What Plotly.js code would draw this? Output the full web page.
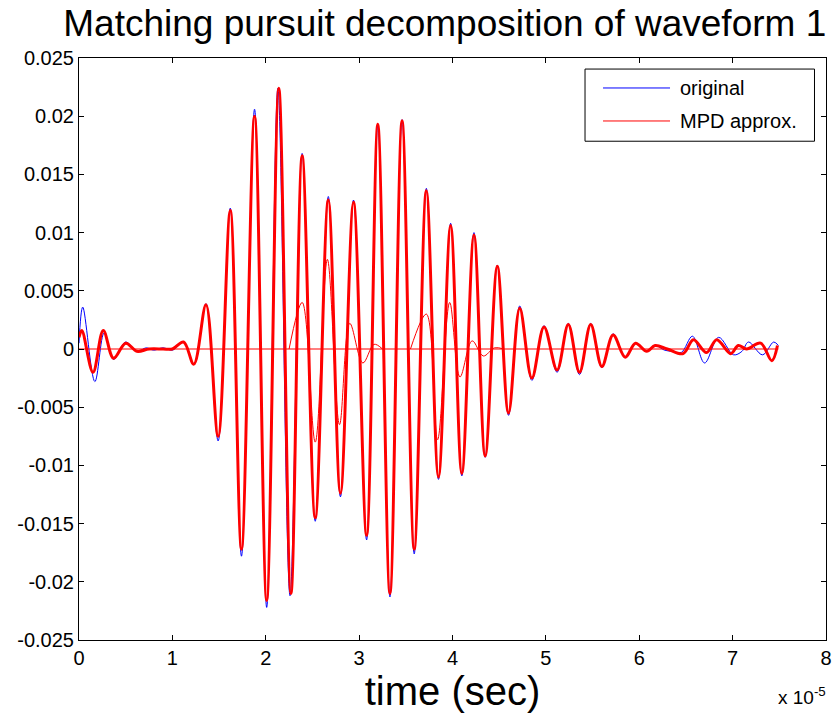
<!DOCTYPE html>
<html>
<head>
<meta charset="utf-8">
<script src="https://cdn.plot.ly/plotly-3.0.1.min.js"></script>
<style>html,body{margin:0;padding:0;background:#fff;}#chart{width:836px;height:725px;}</style>
</head>
<body>
<div id="chart"></div>
<script>
// time in units of 1e-5 s
const tOriginal = [0.00,0.04,0.17,0.27,0.37,0.50,0.62,0.72,0.80,0.90,1.00,1.12,1.23,1.36,1.49,1.62,1.74,1.88,2.01,2.13,2.26,2.39,2.53,2.67,2.80,2.94,3.08,3.20,3.33,3.46,3.59,3.72,3.85,3.98,4.10,4.23,4.35,4.48,4.60,4.72,4.85,4.98,5.12,5.24,5.36,5.48,5.60,5.72,5.85,5.96,6.08,6.17,6.27,6.35,6.45,6.57,6.70,6.85,7.01,7.10,7.17,7.32,7.44,7.49];
const vOriginal = [0.0005,0.0036,-0.0028,0.0014,-0.0009,0.0006,-0.0002,0.0001,-0.0001,0.0001,-0.0001,0.0006,-0.0013,0.0039,-0.0079,0.0121,-0.0178,0.0206,-0.0222,0.0224,-0.0212,0.0168,-0.0148,0.0131,-0.0127,0.0128,-0.0164,0.0192,-0.0213,0.0197,-0.0176,0.0138,-0.0112,0.0108,-0.0109,0.0100,-0.0093,0.0072,-0.0057,0.0037,-0.0027,0.0020,-0.0020,0.0022,-0.0022,0.0022,-0.0016,0.0013,-0.0007,0.0005,-0.0002,0.0003,-0.0001,-0.0002,-0.0003,0.0011,-0.0012,0.0010,-0.0005,-0.0002,0.0006,-0.0005,0.0006,0.0003];

const tApprox = [0.00,0.03,0.15,0.26,0.37,0.50,0.62,0.75,0.90,1.00,1.12,1.23,1.36,1.49,1.62,1.74,1.88,2.01,2.14,2.27,2.39,2.53,2.67,2.80,2.94,3.08,3.20,3.33,3.46,3.59,3.72,3.85,3.98,4.10,4.23,4.35,4.48,4.60,4.72,4.85,4.98,5.12,5.24,5.36,5.48,5.60,5.72,5.85,5.96,6.08,6.17,6.30,6.47,6.58,6.72,6.83,6.98,7.06,7.15,7.30,7.42,7.48];
const vApprox = [0.0010,0.0016,-0.0020,0.0016,-0.0008,0.0005,-0.0002,0.0000,0.0000,0.0000,0.0006,-0.0013,0.0038,-0.0075,0.0119,-0.0172,0.0200,-0.0216,0.0224,-0.0210,0.0166,-0.0145,0.0128,-0.0124,0.0126,-0.0160,0.0193,-0.0210,0.0196,-0.0172,0.0136,-0.0110,0.0106,-0.0107,0.0098,-0.0092,0.0071,-0.0055,0.0035,-0.0025,0.0019,-0.0018,0.0021,-0.0020,0.0021,-0.0015,0.0012,-0.0007,0.0005,-0.0002,0.0003,0.0000,-0.0004,0.0008,-0.0003,0.0008,-0.0004,0.0003,0.0000,0.0005,-0.0010,0.0003];

const tAtomA = [2.25,2.39,2.53,2.66,2.79,2.90,3.04,3.16,3.25];
const vAtomA = [0.0000,0.0040,-0.0080,0.0077,-0.0065,0.0022,-0.0012,0.0004,0.0000];
const tAtomB = [3.55,3.72,3.84,3.97,4.08,4.21,4.33,4.45,4.55];
const vAtomB = [0.0000,0.0030,-0.0078,0.0040,-0.0024,0.0007,-0.0006,0.0001,0.0000];
const tZero = [0.00,7.49];
const vZero = [0,0];

const xTickVals = [0,1,2,3,4,5,6,7,8];
const xTickText = ['0','1','2','3','4','5','6','7','8'];
const yTickVals = [0.025,0.02,0.015,0.01,0.005,0,-0.005,-0.01,-0.015,-0.02,-0.025];
const yTickText = ['0.025','0.02','0.015','0.01','0.005','0','-0.005','-0.01','-0.015','-0.02','-0.025'];

const FONT = 'Arial, "Liberation Sans", sans-serif';

const traces = [
  {x:tOriginal, y:vOriginal, name:'original', mode:'lines', line:{color:'#0000ff', width:1, shape:'spline', smoothing:1}, showlegend:false},
  {x:tZero, y:vZero, name:'MPD approx.', mode:'lines', line:{color:'#ff0000', width:1.2}, showlegend:false},
  {x:tAtomA, y:vAtomA, name:'atom', mode:'lines', line:{color:'#ff0000', width:1, shape:'spline', smoothing:1}, showlegend:false},
  {x:tAtomB, y:vAtomB, name:'atom', mode:'lines', line:{color:'#ff0000', width:1, shape:'spline', smoothing:1}, showlegend:false},
  {x:tApprox, y:vApprox, name:'MPD approx.', mode:'lines', line:{color:'#ff0000', width:3, shape:'spline', smoothing:1}, showlegend:false}
];

// legend box geometry (paper coords)
const lx0 = 0.6774, lx1 = 0.9846, ly0 = 0.857, ly1 = 0.981;
const layout = {
  width:836, height:725,
  paper_bgcolor:'#ffffff', plot_bgcolor:'#ffffff',
  margin:{l:79, r:10, t:58, b:85},
  font:{family:FONT, color:'#000'},
  title:{text:'Matching pursuit decomposition of waveform 1', font:{family:FONT, size:37, color:'#000'}, xref:'container', x:0.532, xanchor:'center', yref:'container', y:0.986, yanchor:'top'},
  xaxis:{range:[0,8], tickvals:xTickVals, ticktext:xTickText, ticks:'inside', ticklen:5, tickcolor:'#000', showline:true, linecolor:'#000', linewidth:1, mirror:'ticks', showgrid:false, zeroline:false, tickfont:{size:20, family:FONT}, title:{text:'time (sec)', font:{size:40, family:FONT}, standoff:8}},
  yaxis:{range:[-0.025,0.025], tickvals:yTickVals, ticktext:yTickText, ticks:'inside', ticklen:5, tickcolor:'#000', showline:true, linecolor:'#000', linewidth:1, mirror:'ticks', showgrid:false, zeroline:false, tickfont:{size:20, family:FONT}},
  shapes:[
    {type:'rect', xref:'paper', yref:'paper', x0:lx0, x1:lx1, y0:ly0, y1:ly1, line:{color:'#000', width:1}, fillcolor:'#fff', layer:'above'},
    {type:'line', xref:'paper', yref:'paper', x0:0.7015, x1:0.7912, y0:0.9485, y1:0.9485, line:{color:'#0000ff', width:1}, layer:'above'},
    {type:'line', xref:'paper', yref:'paper', x0:0.7015, x1:0.7912, y0:0.8918, y1:0.8918, line:{color:'#ff0000', width:1}, layer:'above'}
  ],
  annotations:[
    {xref:'paper', yref:'paper', x:0.8019, y:0.9485, xanchor:'left', yanchor:'middle', text:'original', showarrow:false, font:{size:20, family:FONT, color:'#000'}},
    {xref:'paper', yref:'paper', x:0.8019, y:0.8918, xanchor:'left', yanchor:'middle', text:'MPD approx.', showarrow:false, font:{size:20, family:FONT, color:'#000'}},
    {xref:'paper', yref:'paper', x:1.003, y:-0.072, xanchor:'right', yanchor:'top', text:'x 10<sup>-5</sup>', showarrow:false, font:{size:19, family:FONT, color:'#000'}}
  ]
};

Plotly.newPlot('chart', traces, layout, {displayModeBar:false, staticPlot:true});
</script>
</body>
</html>
